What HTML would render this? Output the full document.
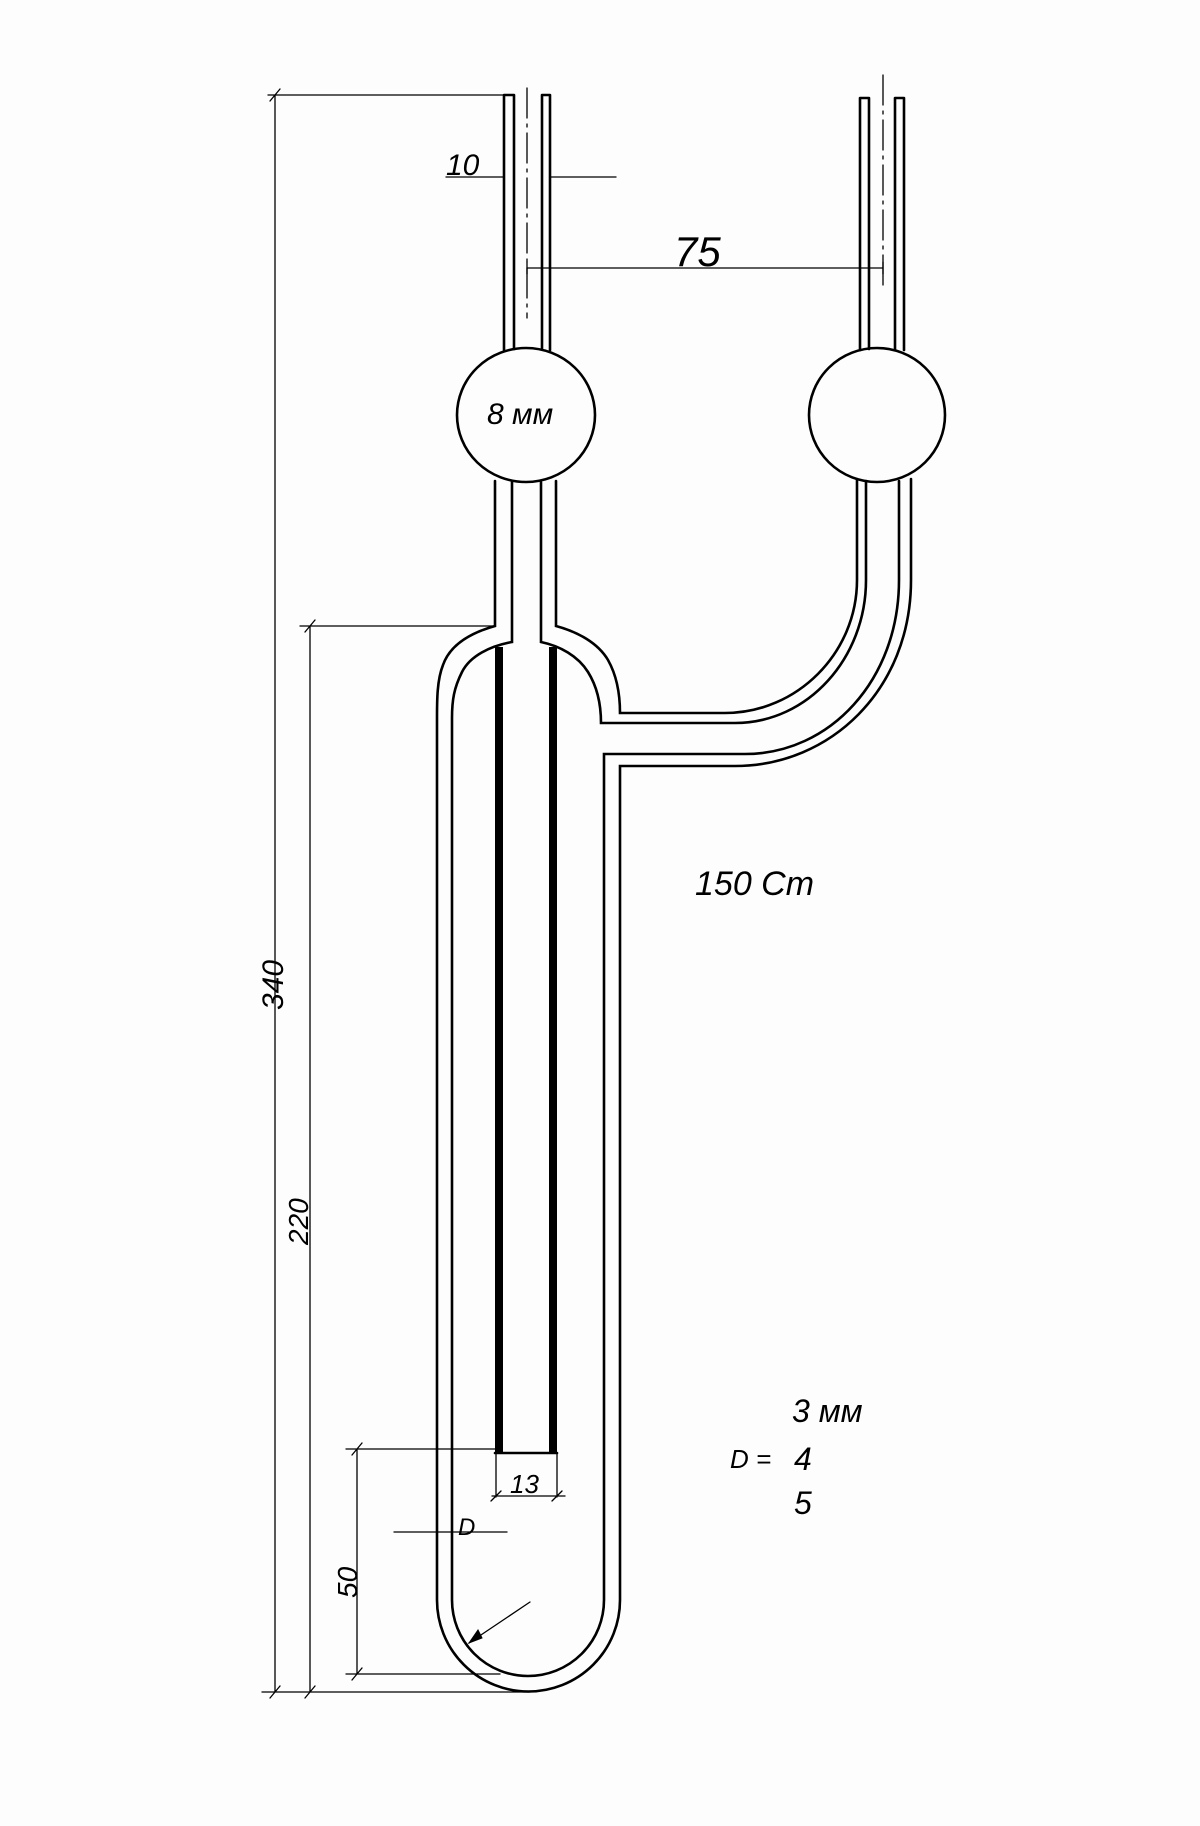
<!DOCTYPE html>
<html><head><meta charset="utf-8"><style>html,body{margin:0;padding:0;background:#fff}svg{display:block}</style></head><body>
<svg width="1200" height="1826" viewBox="0 0 1200 1826" xmlns="http://www.w3.org/2000/svg">
<rect width="1200" height="1826" fill="#fdfdfd"/>
<g fill="none" stroke="#000" stroke-width="2.6" stroke-linecap="round">
<!-- top left tube -->
<path d="M504,95 V350 M514,95 V349 M504,95 H514 M542,95 V349 M550,95 V350 M542,95 H550"/>
<!-- top right tube -->
<path d="M860,98 V350 M869,98 V349 M860,98 H869 M895,98 V349 M904,98 V350 M895,98 H904"/>
<!-- bulbs -->
<ellipse cx="526" cy="415" rx="69" ry="67"/>
<ellipse cx="877" cy="415" rx="68" ry="67"/>
<!-- tube below left bulb -->
<path d="M495,481 V626 C470,633 450,645 443,665 C437,680 437,700 437,718 V1600 A91.5,91.5 0 0 0 620,1600 V766 H735 C830,766 911,690 911,580 V479"/>
<path d="M512,482 V642 C490,646 470,656 462,672 C454,688 452,700 452,718 V1600 A76,76 0 0 0 604,1600 V754 H745 C830,754 899,680 899,580 V481"/>
<path d="M541,482 V642 C560,646 578,656 588,672 C598,688 601,705 601,723 H735 C808,723 866,658 866,580 V481"/>
<path d="M556,481 V626 C578,632 598,643 608,660 C617,676 620,695 620,713 H725 C797,713 857,653 857,580 V479"/>
<!-- thin dim lines -->
<g stroke-width="1.3">
<path d="M527,88 V318" stroke-dasharray="30,6,3,6"/>
<path d="M883,75 V290" stroke-dasharray="30,6,3,6"/>
<path d="M446,177 H504 M550,177 H616"/>
<path d="M527,268 H883 M527,262 V274 M883,262 V274"/>
<path d="M268,95 H505 M275,95 V1692 M262,1692 H530 M270,101 L280,89 M270,1698 L280,1686"/>
<path d="M300,626 H495 M310,626 V1692 M305,632 L315,620 M305,1698 L315,1686"/>
<path d="M346,1449 H495 M357,1449 V1674 M346,1674 H500 M352,1455 L362,1443 M352,1680 L362,1668"/>
<path d="M496,1453 V1497 M557,1453 V1497 M492,1496 H565 M491,1501 L501,1491 M552,1501 L562,1491"/>
<path d="M394,1532 H507"/>
<path d="M530,1602 L469,1643"/>
</g>
<path d="M469,1643 L478,1630 L482,1638 Z" fill="#000" stroke-width="1"/>
<path d="M495,1453 H557"/>
</g>
<!-- thick rods -->
<rect x="495" y="647" width="8" height="806" fill="#000"/>
<rect x="549" y="647" width="8" height="806" fill="#000"/>
<g font-family="'Liberation Sans', 'DejaVu Sans', sans-serif" font-style="italic" fill="#000" font-weight="normal">
<text x="446" y="175" font-size="30">10</text>
<text x="674" y="266" font-size="42">75</text>
<text x="487" y="424" font-size="30">8 мм</text>
<text x="695" y="895" font-size="34">150 Cm</text>
<text x="510" y="1493" font-size="26">13</text>
<text x="458" y="1535" font-size="24">D</text>
<text transform="translate(283,1010) rotate(-90)" font-size="30">340</text>
<text transform="translate(308,1245) rotate(-90)" font-size="28">220</text>
<text transform="translate(357,1598) rotate(-90)" font-size="28">50</text>
<text x="792" y="1422" font-size="32">3 мм</text>
<text x="730" y="1468" font-size="26">D =</text>
<text x="794" y="1470" font-size="32">4</text>
<text x="794" y="1514" font-size="32">5</text>
</g>
</svg>
</body></html>
